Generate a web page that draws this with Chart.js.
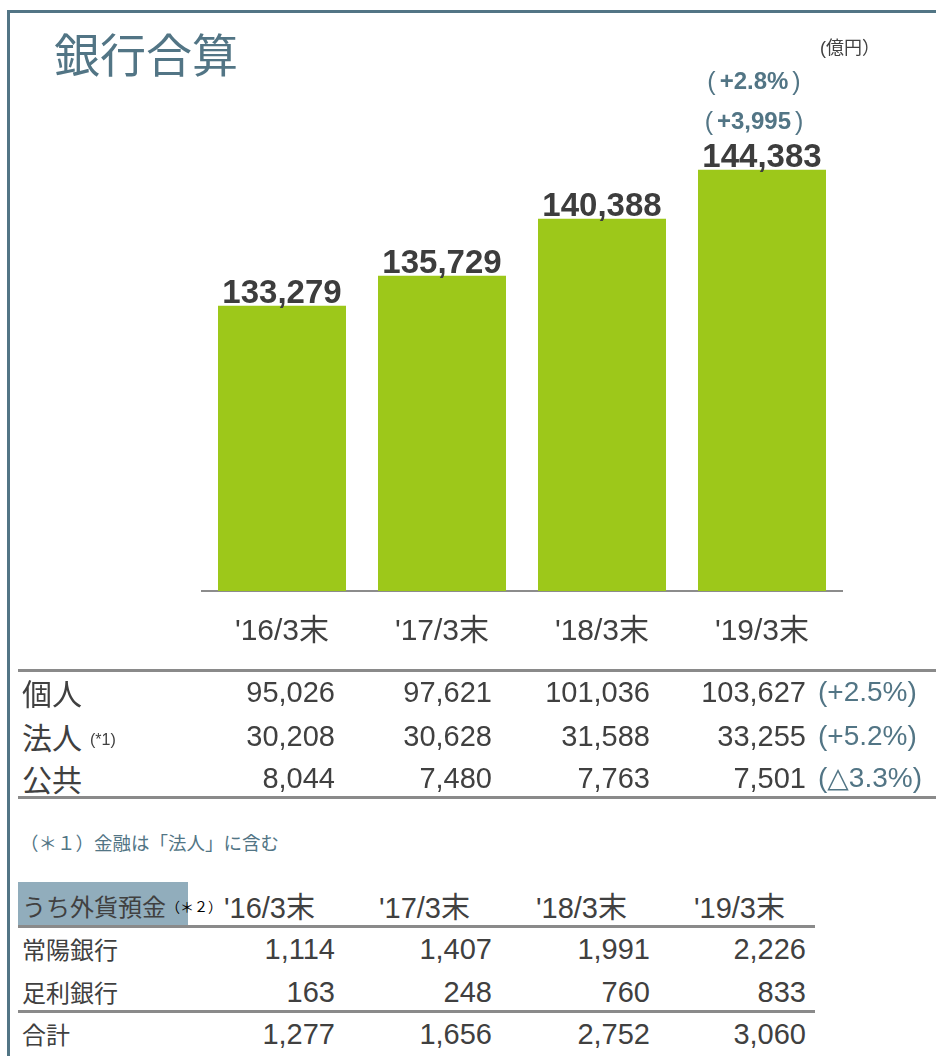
<!DOCTYPE html>
<html>
<head>
<meta charset="utf-8">
<script src="https://cdn.jsdelivr.net/npm/chart.js@4"></script>
<style>
  body { margin: 0; background: #fff; }
  #page { position: relative; width: 936px; height: 1056px; overflow: hidden;
          font-family: "Liberation Sans", "Noto Sans CJK JP", sans-serif; color: #404040; }
  #frame { position: absolute; left: 7px; top: 10px; width: 940px; height: 1060px;
           border-left: 3px solid #527585; border-top: 3px solid #527585; }
  .t { position: absolute; white-space: nowrap; }
  .line { position: absolute; height: 3px; background: #8a8a8a; }
</style>
</head>
<body>
<div id="page">
  <div id="frame"></div>
  <canvas id="chart" width="936" height="683" style="position:absolute;left:0;top:0"></canvas>
</div>
<script>
const categories = ["'16/3末", "'17/3末", "'18/3末", "'19/3末"];
const totals = [133279, 135729, 140388, 144383];
const changeLabels = ['+3,995', '+2.8%'];

const segmentNames = ['個人', '法人', '公共'];
const kojin = [95026, 97621, 101036, 103627];
const hojin = [30208, 30628, 31588, 33255];
const kokyo = [8044, 7480, 7763, 7501];
const segmentChanges = ['(+2.5%)', '(+5.2%)', '(△3.3%)'];

const fxNames = ['常陽銀行', '足利銀行', '合計'];
const joyoFx = [1114, 1407, 1991, 2226];
const ashikagaFx = [163, 248, 760, 833];
const totalFx = [1277, 1656, 2752, 3060];

const fam = '"Liberation Sans", "Noto Sans CJK JP", sans-serif';
const cjk = '"Noto Sans CJK JP", sans-serif';
const page = document.getElementById('page');

function addText(txt, x, y, size, opts) {
    opts = opts || {};
    const d = document.createElement('div');
    d.className = 't';
    d.textContent = txt;
    d.style.fontSize = size + 'px';
    d.style.lineHeight = size + 'px';
    d.style.top = (y - size / 2) + 'px';
    if (opts.right !== undefined) {
        d.style.left = (opts.right - 300) + 'px';
        d.style.width = '300px';
        d.style.textAlign = 'right';
    } else {
        d.style.left = x + 'px';
    }
    if (opts.color) d.style.color = opts.color;
    if (opts.bold) d.style.fontWeight = 'bold';
    if (opts.family) d.style.fontFamily = opts.family;
    page.appendChild(d);
    return d;
}

function addLine(x, y, w) {
    const l = document.createElement('div');
    l.className = 'line';
    l.style.left = x + 'px';
    l.style.top = y + 'px';
    l.style.width = w + 'px';
    page.appendChild(l);
}

// title and unit
addText('銀行合算', 54, 52, 46, { color: '#527585', family: cjk });
addText('(億円）', 820, 48, 18, { color: '#404040' });

// segment table
const colRight = [335, 492, 650, 806];
const segRows = [kojin, hojin, kokyo];
const segY = [692, 736, 778];
addLine(18, 669, 918);
segRows.forEach((row, i) => {
    addText(segmentNames[i], 22, segY[i], 30, { family: cjk });
    row.forEach((v, j) => addText(v.toLocaleString('en-US'), 0, segY[i], 29, { right: colRight[j] }));
    addText(segmentChanges[i], 818, segY[i], 28, { color: '#527585', family: '"Liberation Sans", "DejaVu Sans", sans-serif' });
});
addText('(*1)', 90, segY[1] + 4, 16, { color: '#404040' });
addLine(18, 796, 918);

// footnote
addText('（＊１）金融は「法人」に含む', 20, 842, 18.5, { color: '#527585', family: cjk });

// fx deposit table
const hl = document.createElement('div');
hl.style.cssText = 'position:absolute;left:18px;top:882px;width:170px;height:45px;background:#91adbc';
page.appendChild(hl);
addText('うち外貨預金', 22, 906, 24, { color: '#404040', family: cjk });
addText('（＊２）', 166, 906, 14, { color: '#000', family: cjk });
const headRight = [315, 470, 627, 785];
categories.forEach((c, j) => addText(c, 0, 908, 29, { right: headRight[j] }));
addLine(18, 925, 797);
const fxRows = [joyoFx, ashikagaFx, totalFx];
const fxY = [949, 992, 1034];
fxRows.forEach((row, i) => {
    addText(fxNames[i], 22, fxY[i], 24, { family: cjk });
    row.forEach((v, j) => addText(v.toLocaleString('en-US'), 0, fxY[i], 29, { right: colRight[j] }));
});
addLine(18, 1010, 797);

// labels over bars
const barLabels = {
    id: 'barLabels',
    afterDatasetsDraw(chart) {
        const ctx = chart.ctx;
        const meta = chart.getDatasetMeta(0);
        ctx.save();
        ctx.textAlign = 'center';
        ctx.textBaseline = 'alphabetic';
        ctx.fillStyle = '#3d3d3d';
        ctx.font = 'bold 33px ' + fam;
        meta.data.forEach((bar, i) => {
            ctx.fillText(totals[i].toLocaleString('en-US'), bar.x, bar.y - 3);
        });
        // change vs previous year, wrapped in wide parens
        const last = meta.data[meta.data.length - 1];
        ctx.fillStyle = '#527585';
        changeLabels.forEach((t, k) => {
            const cx = last.x - 8;
            const y = last.y - 41 - k * 40;
            ctx.font = 'bold 24px "Liberation Sans", sans-serif';
            const w = ctx.measureText(t).width;
            ctx.textAlign = 'center';
            ctx.fillText(t, cx, y);
            ctx.font = '25px "Liberation Sans", sans-serif';
            ctx.textAlign = 'right';
            ctx.fillText('(', cx - w / 2 - 4, y + 1);
            ctx.textAlign = 'left';
            ctx.fillText(')', cx + w / 2 + 4, y + 1);
        });
        ctx.restore();
    }
};

new Chart(document.getElementById('chart').getContext('2d'), {
    type: 'bar',
    data: {
        labels: categories,
        datasets: [{
            data: totals,
            backgroundColor: '#9dc81a',
            barPercentage: 0.8,
            categoryPercentage: 1.0
        }]
    },
    options: {
        responsive: false,
        animation: false,
        layout: { padding: { left: 202, right: 94, top: 101, bottom: 10 } },
        plugins: { legend: { display: false }, tooltip: { enabled: false } },
        scales: {
            y: { display: false, min: 110000, max: 150000 },
            x: {
                grid: { display: false, drawTicks: false },
                border: { display: true, color: '#8c8c8c', width: 2 },
                ticks: { color: '#404040', padding: 23, font: { size: 30, family: fam } }
            }
        }
    },
    plugins: [barLabels]
});
</script>
</body>
</html>
